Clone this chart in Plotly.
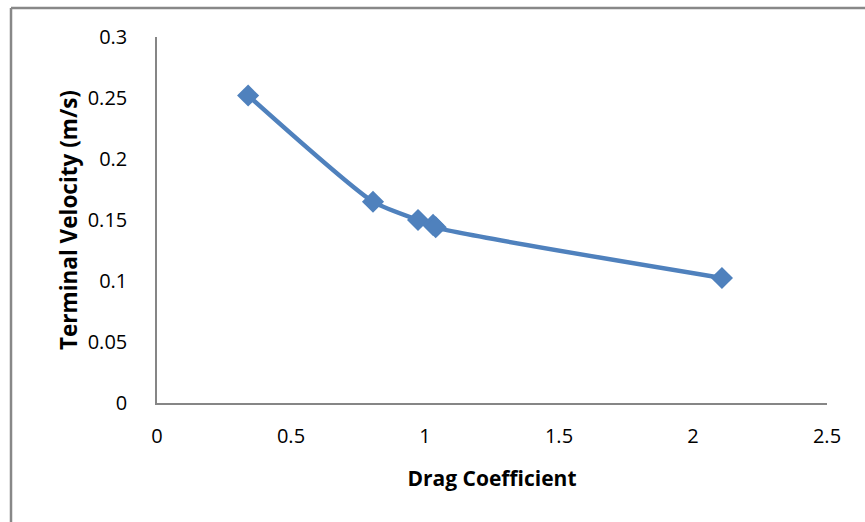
import plotly.graph_objects as go

# drag coefficient vs terminal velocity
drag_coeff = [0.34, 0.806, 0.974, 1.03, 1.04, 2.108]
velocity = [0.252, 0.165, 0.150, 0.146, 0.144, 0.1025]

x_ticks = [0, 0.5, 1, 1.5, 2, 2.5]
y_ticks = [0, 0.05, 0.1, 0.15, 0.2, 0.25, 0.3]

W, H = 865, 522
L, R, T, B = 157, 38, 37, 119
pw, ph = W - L - R, H - T - B

fig = go.Figure()
fig.add_trace(go.Scatter(
    x=drag_coeff, y=velocity, mode="lines+markers",
    line=dict(color="#4F81BD", width=4.5, shape="spline", smoothing=0.6),
    marker=dict(symbol="diamond", size=17, color="#4F81BD"),
    showlegend=False,
))

axis_font = dict(family="Open Sans, Liberation Sans, sans-serif", size=20, color="black")
title_font = dict(family="Open Sans, Liberation Sans, sans-serif", size=21, color="black")

fig.update_xaxes(
    range=[0, 2.5], tickvals=x_ticks, ticktext=[str(t) for t in x_ticks],
    showgrid=False, zeroline=False, showline=True, linecolor="#868686", linewidth=1.5,
    ticks="", ticklabelstandoff=14, tickfont=axis_font,
    title=dict(text="<b>Drag Coefficient</b>", font=title_font, standoff=24),
)
fig.update_yaxes(
    range=[0, 0.3], tickvals=y_ticks, ticktext=["0", "0.05", "0.1", "0.15", "0.2", "0.25", "0.3"],
    showgrid=False, zeroline=False, showline=True, linecolor="#868686", linewidth=1.5,
    ticks="", ticklabelstandoff=24, tickfont=axis_font,
    title=dict(text="<b>Terminal Velocity (m/s)</b>", font=dict(title_font, size=22.5), standoff=4),
)

# outer chart frame (top and left edges are the visible ones)
frame_left = (11 - L) / pw
frame_top = 1 + (T - 8) / ph
frame_style = dict(color="#888888", width=2.5)
fig.add_shape(type="line", xref="paper", yref="paper",
              x0=frame_left, x1=(W - L) / pw, y0=frame_top, y1=frame_top, line=frame_style)
fig.add_shape(type="line", xref="paper", yref="paper",
              x0=frame_left, x1=frame_left, y0=frame_top, y1=-(H - T - ph) / ph, line=frame_style)

fig.update_layout(
    width=W, height=H,
    margin=dict(l=L, r=R, t=T, b=B),
    paper_bgcolor="white", plot_bgcolor="white",
)

fig.write_html("out.html", config={"displayModeBar": False},
               post_script="document.body.style.margin='0';")
